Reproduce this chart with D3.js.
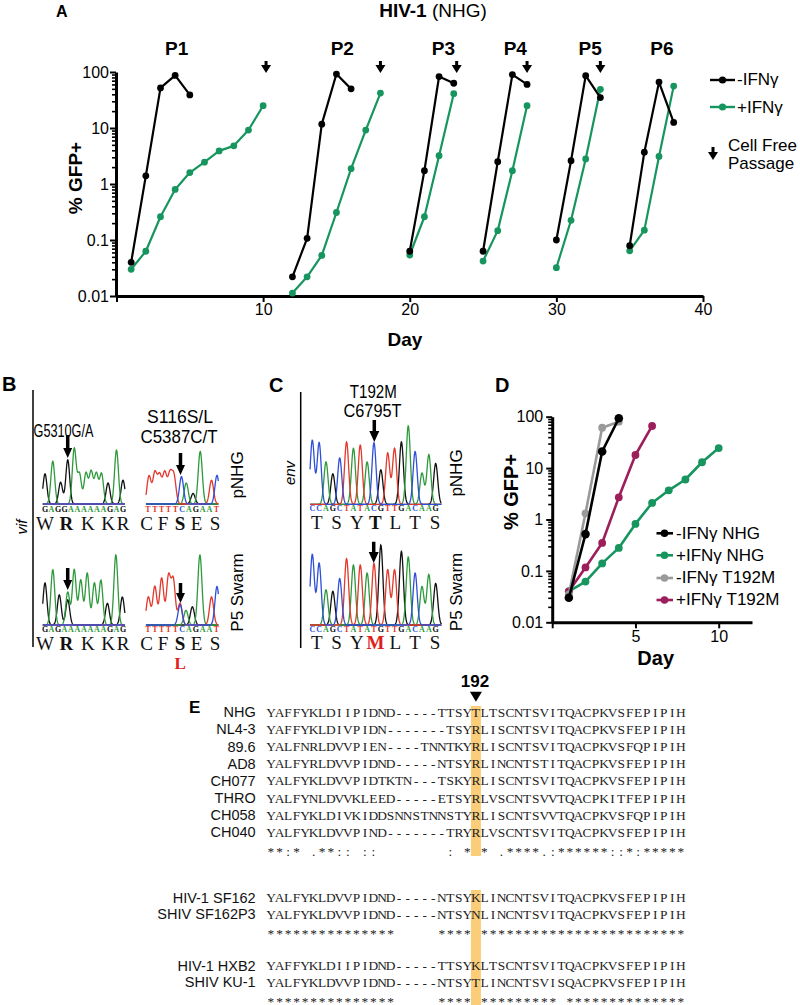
<!DOCTYPE html>
<html><head><meta charset="utf-8">
<script src="https://cdn.jsdelivr.net/npm/d3@7"></script>
<style>body{margin:0;background:#fff}</style>
</head><body>
<svg id="c" width="800" height="1005" xmlns="http://www.w3.org/2000/svg"></svg>
<script>
// ================= DATA =================
// Panel A
const passages = ["P1","P2","P3","P4","P5","P6"];
const passageLabelDay = [4.1,15.4,22.3,27.2,32.3,37.2];
const passageArrowDay = [10.2,18,23.2,28,33];
const minusDaysA = [[1,2,3,4,5],[12,13,14,15,16],[20,21,22,23],[25,26,27,28],[30,31,32,33],[35,36,37,38]];
const minusValsA = [[0.04,1.4,52,87,39],[0.022,0.107,11.7,92,50],[0.063,1.73,83,63],[0.063,2.5,90,60],[0.1,2.6,86,35],[0.079,3.7,66,12.6]];
const plusDaysA = [[1,2,3,4,5,6,7,8,9,10],[12,13,14,15,16,17,18],[20,21,22,23],[25,26,27,28],[30,31,32,33],[35,36,37,38]];
const plusValsA = [[0.03,0.063,0.26,0.8,1.6,2.45,3.9,4.8,9.2,25],[0.0113,0.022,0.053,0.31,1.88,9.2,42],[0.054,0.26,3.2,41],[0.042,0.147,1.73,25],[0.032,0.225,2.8,49],[0.064,0.15,3.1,56]];
const legendA = ["-IFNγ","+IFNγ"];
const yTicks = [0.01,0.1,1,10,100];
const yTickLabels = ["0.01","0.1","1","10","100"];
const xTicksA = [0,10,20,30,40];
const xTicksD = [0,5,10];

// Panel D
const seriesD = ["-IFNγ NHG","+IFNγ NHG","-IFNγ T192M","+IFNγ T192M"];
const daysD = [[1,2,3,4],[1,2,3,4,5,6,7,8,9,10],[1,2,3,4],[1,2,3,4,5,6]];
const valsD = [[0.03,0.52,21,93],[0.04,0.062,0.14,0.28,0.82,2.1,3.7,6.0,13,24.5],[0.035,1.32,61,80],[0.04,0.117,0.35,2.7,18,66]];

// Panel B / C chromatograms: peaks [position (base index), base, intensity]
const vifLeftBases = "GAGGAAAAAAGAG";
const vifLeftTop = [[0,"G",43],[1.2,"A",61],[2.4,"G",31],[3.5,"G",63],[4.5,"A",79],[5.3,"A",43],[6.3,"A",44],[7.1,"A",46],[7.9,"A",43],[8.7,"A",43],[9.7,"G",30],[11,"A",77],[12,"G",34]];
const vifLeftBottomBases = "GAGAAAAAAAGAG";
const vifLeftBottom = [[0,"G",60],[1.2,"A",79],[2.2,"G",43],[3.5,"A",47],[3.5,"G",36],[4.5,"A",79],[5.5,"A",64],[6.5,"A",74],[7.6,"A",60],[8.6,"A",64],[9.6,"G",31],[10.9,"A",100],[11.9,"G",40]];
const vifRightBases = "TTTTTCAGAAT";
const vifRightTop = [[0.15,"T",40],[1.0,"T",44],[1.7,"T",40],[2.45,"T",44],[3.2,"T",41],[3.8,"T",39],[4.9,"C",39],[5.6,"A",30],[6.6,"G",15],[7.65,"A",75],[9.3,"T",34],[10.1,"C",41]];
const vifRightBottom = [[0.05,"T",40],[1.0,"T",55],[2.0,"T",67],[3.0,"T",69],[3.7,"T",64],[4.7,"C",29],[4.7,"T",31],[5.56,"A",21],[6.5,"G",26],[7.6,"A",100],[9.3,"T",40],[10.1,"C",55]];
const vifLeftAA = ["W","R","K","K","R"];
const vifLeftAAPos = [0,3.3,6.6,9.7,12];
const vifRightAA = ["C","F","S","E","S"];
const vifRightAAPos = [-0.2,2.2,4.7,7.1,9.8];

const envTopBases = "CCAGCTATACGTTGACAAG";
const envTopHeights = [80,77,53,38,58,78,70,74,53,77,43,64,70,78,98,66,39,62,51];
const envBottomBases = "CCAGCTATATGTTGACAAG";
const envBottomHeights = [88,77,44,42,58,83,75,75,65,77,100,69,69,92,85,65,48,63,52];
const envTopAA = ["T","S","Y","T","L","T","S"];
const envBottomAA = ["T","S","Y","M","L","T","S"];
const envAAPos = [0.64,3.55,6.5,9.2,12.1,15.0,17.9];

// Panel E alignment
const namesE1 = ["NHG","NL4-3","89.6","AD8","CH077","THRO","CH058","CH040"];
const seqsE1 = [
 "YAFFYKLDIIPIDND-----TTSYTLTSCNTSVITQACPKVSFEPIPIH",
 "YAFFYKLDIVPIDN-------TSYRLISCNTSVITQACPKVSFEPIPIH",
 "YALFNRLDVVPIEN----TNNTKYRLISCNTSVITQACPKVSFQPIPIH",
 "YALFYRLDVVPIDND-----NTSYRLINCNTSTITQACPKVSFEPIPIH",
 "YALFYKLDVVPIDTKTN---TSKYRLISCNTSVITQACPKVSFEPIPIH",
 "YALFYNLDVVKLEED-----ETSYRLVSCNTSVVTQACPKITFEPIPIH",
 "YALFYKLDIVKIDDSNNSTNNSTYRLISCNTSVVTQACPKVSFQPIPIH",
 "YALFYKLDVVPIND-------TRYRLVSCNTSVITQACPKVSFEPIPIH"];
const consE1 = "**:* .**:: ::        : * * .****.:******::*:*****";
const namesE2 = ["HIV-1 SF162","SHIV SF162P3"];
const seqsE2 = ["YALFYKLDVVPIDND-----NTSYKLINCNTSVITQACPKVSFEPIPIH",
                "YALFYKLDVVPIDND-----NTSYNLINCNTSVITQACPKVSFEPIPIH"];
const consE2 = "***************     **** ************************";
const namesE3 = ["HIV-1 HXB2","SHIV KU-1"];
const seqsE3 = ["YAFFYKLDIIPIDND-----TTSYKLTSCNTSVITQACPKVSFEPIPIH",
                "YALFYKLDVVPIDND-----NTSYTLINCNTSVISQACPKVSFEPIPIH"];
const consE3 = "***************     **** ********* **************";
const highlightCol = 24;

// ================= DRAWING =================
const SANS = '"Liberation Sans", Arial, Helvetica, sans-serif';
const SERIF = '"Liberation Serif", "Times New Roman", serif';
const GREEN = "#17955f";
const colorsD = ["#000000", GREEN, "#9a9a9a", "#9c1f5c"];
const baseColor = {A:"#2f9a3c", C:"#2e4fd8", G:"#111111", T:"#e3382c"};
const svg = d3.select("#c");
svg.append("rect").attr("width",800).attr("height",1005).attr("fill","#fff");

function txt(g, x, y, s, o = {}) {
  const t = g.append("text").attr("x", x).attr("y", y).text(s)
    .attr("font-family", o.family || SANS).attr("font-size", o.size || 16)
    .attr("font-weight", o.weight || "normal").attr("fill", o.fill || "#000")
    .attr("text-anchor", o.anchor || "start");
  if (o.style) t.attr("font-style", o.style);
  if (o.rotate !== undefined) t.attr("x", 0).attr("y", 0).attr("transform", `translate(${x},${y}) rotate(${o.rotate})`);
  if (o.len) t.attr("textLength", o.len).attr("lengthAdjust", "spacingAndGlyphs");
  return t;
}
function downArrow(g, x, y0, y1, headW, headH, stemW) {
  g.append("path").attr("d",
    `M${x-stemW/2},${y0} L${x+stemW/2},${y0} L${x+stemW/2},${y1-headH} L${x+headW/2},${y1-headH} L${x},${y1} L${x-headW/2},${y1-headH} L${x-stemW/2},${y1-headH} Z`)
    .attr("fill", "#000");
}
function logYAxis(g, y, x0, pad) {
  const minors = [];
  for (let e = -2; e < 2; e++) for (let k = 2; k < 10; k++) minors.push(k * Math.pow(10, e));
  const mi = g.append("g").attr("transform", `translate(${x0},0)`)
    .call(d3.axisLeft(y).tickValues(minors).tickSize(4).tickFormat("").tickSizeOuter(0));
  mi.select(".domain").remove();
  mi.selectAll("line").attr("stroke-width", 1.6);
  const ma = g.append("g").attr("transform", `translate(${x0},0)`)
    .call(d3.axisLeft(y).tickValues(yTicks).tickSize(6).tickPadding(pad)
      .tickFormat((d, i) => yTickLabels[i]).tickSizeOuter(0));
  ma.select(".domain").attr("stroke-width", 3);
  ma.selectAll("line").attr("stroke-width", 2);
  ma.selectAll("text").attr("font-size", 16).attr("font-family", SANS).attr("fill", "#000");
}
function xAxis(g, x, y0, ticks) {
  const a = g.append("g").attr("transform", `translate(0,${y0})`)
    .call(d3.axisBottom(x).tickValues(ticks).tickSize(6).tickPadding(2)
      .tickFormat(d => d === 0 ? "" : d).tickSizeOuter(0));
  a.select(".domain").attr("stroke-width", 3);
  a.selectAll("line").attr("stroke-width", 2);
  a.selectAll("text").attr("font-size", 16).attr("font-family", SANS).attr("fill", "#000");
}

// ---------- Panel A ----------
const gA = svg.append("g");
const xA = d3.scaleLinear().domain([0, 40]).range([116.5, 703]);
const yA = d3.scaleLog().domain([0.01, 100]).range([296, 72]);
txt(gA, 56, 17, "A", {size: 16, weight: "bold"});
const title = txt(gA, 433, 17, "", {size: 19, anchor: "middle"});
title.append("tspan").attr("font-weight", "bold").text("HIV-1");
title.append("tspan").text(" (NHG)");
logYAxis(gA, yA, 116, 1);
xAxis(gA, xA, 296, xTicksA);
txt(gA, 82, 178, "% GFP+", {size: 19, weight: "bold", anchor: "middle", rotate: -90});
txt(gA, 405, 346, "Day", {size: 19, weight: "bold", anchor: "middle"});
passages.forEach((p, i) => txt(gA, xA(passageLabelDay[i]), 55, p, {size: 19, weight: "bold", anchor: "middle"}));
passageArrowDay.forEach(d => downArrow(gA, xA(d), 61, 73, 10, 8, 3));
const lineA = d3.line().x(d => xA(d[0])).y(d => yA(d[1]));
function drawSeries(g, days, vals, color, line, r, w) {
  const pts = days.map((d, i) => [d, vals[i]]);
  g.append("path").attr("d", line(pts)).attr("fill", "none").attr("stroke", color).attr("stroke-width", w).attr("stroke-linejoin", "round");
  g.selectAll(null).data(pts).enter().append("circle")
    .attr("cx", d => line.x()(d)).attr("cy", d => line.y()(d)).attr("r", r).attr("fill", color);
}
plusDaysA.forEach((d, i) => drawSeries(gA, d, plusValsA[i], GREEN, lineA, 3.4, 2.2));
minusDaysA.forEach((d, i) => drawSeries(gA, d, minusValsA[i], "#000", lineA, 3.4, 2.2));
// legend A
[["#000", 80, 85], [GREEN, 107, 113]].forEach((L, i) => {
  gA.append("line").attr("x1", 710).attr("x2", 735).attr("y1", L[1]).attr("y2", L[1]).attr("stroke", L[0]).attr("stroke-width", 2.4);
  gA.append("circle").attr("cx", 722.5).attr("cy", L[1]).attr("r", 3.6).attr("fill", L[0]);
  txt(gA, 737, L[2], legendA[i], {size: 17});
});
downArrow(gA, 713, 147, 160, 10, 8, 3);
txt(gA, 728, 150.5, "Cell Free", {size: 17});
txt(gA, 728, 169, "Passage", {size: 17});

// ---------- Chromatogram helper ----------
function trace(g, peaks, xs, y0, pxPerUnit, p0, p1) {
  const sig = 0.3;
  ["G", "A", "T", "C"].forEach(b => {
    const mine = peaks.filter(q => q[1] === b);
    const pts = d3.range(p0, p1 + 1e-9, 0.04).map(p =>
      [p, d3.sum(mine, q => q[2] * Math.exp(-((p - q[0]) ** 2) / (2 * sig * sig)))]);
    g.append("path").attr("d", d3.line().x(d => xs(d[0])).y(d => y0 - d[1] * pxPerUnit)(pts))
      .attr("fill", "none").attr("stroke", baseColor[b]).attr("stroke-width", 1.3);
  });
}
function bases(g, s, xs, y) {
  s.split("").forEach((c, i) => txt(g, xs(i), y, c, {family: SERIF, size: 8, weight: "bold", anchor: "middle", fill: baseColor[c]}));
}
function aminos(g, list, pos, xs, y, boldIdx, redIdx) {
  list.forEach((a, i) => txt(g, xs(pos[i]), y, a, {family: SERIF, size: 19, anchor: "middle",
    weight: i === boldIdx ? "bold" : "normal", fill: i === redIdx ? "#e0201b" : "#111"}));
}

// ---------- Panel B ----------
const gB = svg.append("g");
txt(gB, 2, 391, "B", {size: 20, weight: "bold"});
gB.append("line").attr("x1", 33).attr("x2", 33).attr("y1", 390).attr("y2", 647).attr("stroke", "#000").attr("stroke-width", 1.5);
txt(gB, 27, 527, "vif", {size: 15, style: "italic", anchor: "middle", rotate: -90});
const xBL = d3.scaleLinear().domain([0, 12]).range([45, 123]);
const xBR = d3.scaleLinear().domain([0, 10]).range([148, 216.3]);
txt(gB, 63.5, 437, "G5310G/A", {size: 18, anchor: "middle", len: 60});
txt(gB, 180, 423, "S116S/L", {size: 18, anchor: "middle", len: 66});
txt(gB, 179, 442.5, "C5387C/T", {size: 18, anchor: "middle", len: 77});
// top row
trace(gB, vifLeftTop, xBL, 504, 0.7, -0.35, 12.3);
trace(gB, vifRightTop, xBR, 504, 0.7, -0.3, 10.3);
bases(gB, vifLeftBases, xBL, 511.5);
bases(gB, vifRightBases, xBR, 511.5);
aminos(gB, vifLeftAA, vifLeftAAPos, xBL, 529.5, 1, -1);
aminos(gB, vifRightAA, vifRightAAPos, xBR, 529.5, 2, -1);
downArrow(gB, 67.7, 435, 458, 9, 10, 3.5);
downArrow(gB, 180.5, 453, 475, 9, 10, 3.5);
// bottom row
trace(gB, vifLeftBottom, xBL, 625, 0.7, -0.35, 12.3);
trace(gB, vifRightBottom, xBR, 625, 0.7, -0.3, 10.3);
bases(gB, vifLeftBottomBases, xBL, 632.3);
bases(gB, vifRightBases, xBR, 632.3);
aminos(gB, vifLeftAA, vifLeftAAPos, xBL, 649.5, 1, -1);
aminos(gB, vifRightAA, vifRightAAPos, xBR, 649.5, 2, -1);
txt(gB, xBR(vifRightAAPos[2]), 669, "L", {family: SERIF, size: 17, weight: "bold", anchor: "middle", fill: "#e0201b"});
downArrow(gB, 67.7, 568, 590, 9, 10, 3.5);
downArrow(gB, 180.5, 583, 603, 9, 10, 3.5);
txt(gB, 243, 475, "pNHG", {size: 17, anchor: "middle", rotate: -90});
txt(gB, 243, 592.5, "P5 Swarm", {size: 17, anchor: "middle", rotate: -90});

// ---------- Panel C ----------
const gC = svg.append("g");
txt(gC, 269, 392, "C", {size: 20, weight: "bold"});
gC.append("line").attr("x1", 300.7).attr("x2", 300.7).attr("y1", 392).attr("y2", 648).attr("stroke", "#000").attr("stroke-width", 1.5);
txt(gC, 295, 473, "env", {size: 15, style: "italic", anchor: "middle", rotate: -90});
txt(gC, 373.3, 398.3, "T192M", {size: 18, anchor: "middle", len: 47});
txt(gC, 372.5, 416.7, "C6795T", {size: 18, anchor: "middle", len: 58});
const xC = d3.scaleLinear().domain([0, 18]).range([312.3, 435.7]);
const envTopPeaks = envTopHeights.map((h, i) => [i, envTopBases[i], h]);
const envBottomPeaks = envBottomHeights.map((h, i) => [i, envBottomBases[i], h]);
trace(gC, envTopPeaks, xC, 504.3, 0.8, -0.33, 18.85);
trace(gC, envBottomPeaks, xC, 625, 0.8, -0.33, 18.85);
bases(gC, envTopBases, xC, 510.7);
bases(gC, envBottomBases, xC, 631.7);
aminos(gC, envTopAA, envAAPos, xC, 529.3, 3, -1);
aminos(gC, envBottomAA, envAAPos, xC, 649.3, 3, 3);
downArrow(gC, 374.3, 420, 442, 10, 11, 3.5);
downArrow(gC, 373.7, 541.7, 563, 10, 11, 3.5);
txt(gC, 462, 473, "pNHG", {size: 17, anchor: "middle", rotate: -90});
txt(gC, 462, 592, "P5 Swarm", {size: 17, anchor: "middle", rotate: -90});

// ---------- Panel D ----------
const gD = svg.append("g");
txt(gD, 495, 392, "D", {size: 20, weight: "bold"});
const xD = d3.scaleLinear().domain([0, 12]).range([552.2, 752]);
const yD = d3.scaleLog().domain([0.01, 100]).range([622.3, 416.7]);
logYAxis(gD, yD, 552.2, 3);
xAxis(gD, xD, 622.3, xTicksD);
txt(gD, 518, 492, "% GFP+", {size: 20, weight: "bold", anchor: "middle", rotate: -90});
txt(gD, 655.7, 665, "Day", {size: 20, weight: "bold", anchor: "middle"});
const lineD = d3.line().x(d => xD(d[0])).y(d => yD(d[1]));
[1, 3, 2, 0].forEach(i => drawSeries(gD, daysD[i], valsD[i], colorsD[i], lineD, i === 0 ? 4.3 : 3.9, 2.6));
const legY = [533.3, 555.3, 578, 600];
const legBase = [538.5, 560.5, 583.3, 605.3];
seriesD.forEach((s, i) => {
  gD.append("line").attr("x1", 656.5).attr("x2", 673).attr("y1", legY[i]).attr("y2", legY[i]).attr("stroke", colorsD[i]).attr("stroke-width", 2.6);
  gD.append("circle").attr("cx", 664.5).attr("cy", legY[i]).attr("r", 3.8).attr("fill", colorsD[i]);
  txt(gD, 676, legBase[i], s, {size: 17});
});

// ---------- Panel E ----------
const gE = svg.append("g");
txt(gE, 189, 713, "E", {size: 17, weight: "bold"});
const cw = 8.54, sx = 266.7;
const colX = i => sx + (i + 0.5) * cw;
gE.append("rect").attr("x", colX(highlightCol) - 5).attr("width", 10).attr("y", 706).attr("height", 150).attr("fill", "#fbcd78");
gE.append("rect").attr("x", colX(highlightCol) - 5).attr("width", 10).attr("y", 890).attr("height", 115).attr("fill", "#fbcd78");
txt(gE, 475, 687.3, "192", {size: 17, weight: "bold", anchor: "middle"});
gE.append("path").attr("d", `M${colX(highlightCol) - 6},691.7 L${colX(highlightCol) + 6},691.7 L${colX(highlightCol)},701.7 Z`).attr("fill", "#000");
function seqRow(name, s, yc, isCons) {
  if (name) txt(gE, 255.7, yc + 5, name, {size: 14.5, anchor: "end", fill: "#111"});
  s.split("").forEach((c, i) => {
    if (c !== " ") txt(gE, colX(i), yc + (isCons ? 6.8 : 4.5), c, {family: SERIF, size: 13.4, anchor: "middle", fill: "#222"});
  });
}
namesE1.forEach((n, i) => seqRow(n, seqsE1[i], 712.3 + 17.15 * i, false));
seqRow("", consE1, 712.3 + 17.15 * 8, true);
const g2y = [897.7, 914.3, 930.7];
namesE2.forEach((n, i) => seqRow(n, seqsE2[i], g2y[i], false));
seqRow("", consE2, g2y[2], true);
const g3y = [965.7, 982.3, 998.7];
namesE3.forEach((n, i) => seqRow(n, seqsE3[i], g3y[i], false));
seqRow("", consE3, g3y[2], true);
</script>
</body></html>
